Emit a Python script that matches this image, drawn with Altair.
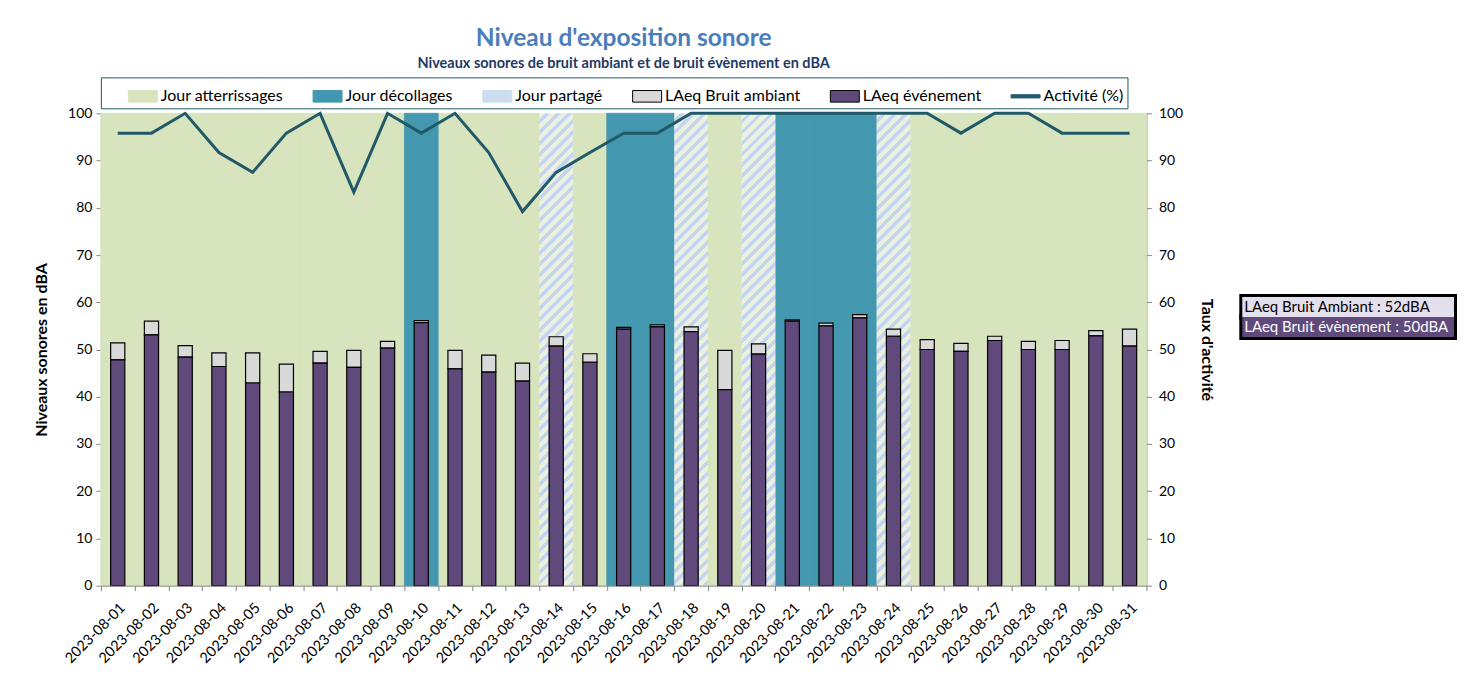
import altair as alt
import pandas as pd

# ---------------- data ----------------
dates = [
    "2023-08-01", "2023-08-02", "2023-08-03", "2023-08-04", "2023-08-05", "2023-08-06",
    "2023-08-07", "2023-08-08", "2023-08-09", "2023-08-10", "2023-08-11", "2023-08-12",
    "2023-08-13", "2023-08-14", "2023-08-15", "2023-08-16", "2023-08-17", "2023-08-18",
    "2023-08-19", "2023-08-20", "2023-08-21", "2023-08-22", "2023-08-23", "2023-08-24",
    "2023-08-25", "2023-08-26", "2023-08-27", "2023-08-28", "2023-08-29", "2023-08-30",
    "2023-08-31",
]
A, D, P = "Jour atterrissages", "Jour décollages", "Jour partagé"
day_type = [A, A, A, A, A, A, A, A, A, D, A, A, A, P, A, D, D, P, A, P, D, D, D, P,
            A, A, A, A, A, A, A]
laeq_evenement = [47.8, 53.1, 48.4, 46.4, 42.9, 41.0, 47.1, 46.2, 50.3, 55.7, 45.9,
                  45.2, 43.3, 50.7, 47.3, 54.3, 54.8, 53.8, 41.5, 49.0, 56.0, 55.0,
                  56.7, 52.8, 50.0, 49.6, 51.9, 50.0, 50.0, 52.9, 50.7]
laeq_ambiant_top = [51.4, 56.0, 50.8, 49.3, 49.3, 46.9, 49.6, 49.8, 51.7, 56.1, 49.8,
                    48.8, 47.1, 52.7, 49.1, 54.7, 55.2, 54.8, 49.8, 51.2, 56.3, 55.6,
                    57.4, 54.3, 52.1, 51.3, 52.8, 51.7, 51.9, 54.0, 54.3]
activite = [95.8, 95.8, 100, 91.7, 87.5, 95.8, 100, 83.3, 100, 95.8, 100, 91.7, 79.2,
            87.5, 91.7, 95.8, 95.8, 100, 100, 100, 100, 100, 100, 100, 100, 95.8, 100,
            100, 95.8, 95.8, 95.8]
legend_labels = ["Jour atterrissages", "Jour décollages", "Jour partagé",
                 "LAeq Bruit ambiant", "LAeq événement", "Activité (%)"]
info_labels = ["LAeq Bruit Ambiant : 52dBA", "LAeq Bruit évènement : 50dBA"]
axis_values = [0, 10, 20, 30, 40, 50, 60, 70, 80, 90, 100]

# ---------------- style ----------------
W, H = 1047, 473
FONT = "Lato"
GREEN = "#D7E4BD"
BLUE = "#4398AF"
HATCH_BG = "#EBF0E0"
HATCH_FG = "#C3D5EF"
LIGHT = "#D9D9D9"
PURPLE = "#604A7B"
TEAL = "#215968"
GRAY = "#868686"

df = pd.DataFrame({"date": dates, "type": day_type, "event": laeq_evenement,
                   "total": laeq_ambiant_top, "act": activite})

# diagonal hatch as a striped linear gradient (bbox units)
bw = W / len(dates)
r = bw / H
k = (bw + H) / (H * (1 + r * r))
period = 11.0 / (bw + H)
stops = []
o = 0.0
while o < 1.0:
    a = round(o, 5)
    b = round(min(o + period * 0.55, 1.0), 5)
    c = round(min(o + period, 1.0), 5)
    stops += [alt.GradientStop(offset=a, color=HATCH_BG),
              alt.GradientStop(offset=b, color=HATCH_BG),
              alt.GradientStop(offset=b, color=HATCH_FG),
              alt.GradientStop(offset=c, color=HATCH_FG)]
    o += period
hatch = alt.LinearGradient(gradient="linear", stops=stops, x1=0, y1=0,
                           x2=round(k * r, 5), y2=round(k, 5))

yscale = alt.Scale(domain=[0, 100], nice=False)
left_axis = alt.Axis(title="Niveaux sonores en dBA", values=axis_values, grid=False,
                     titlePadding=18, labelPadding=4, tickSize=5)
right_axis = alt.Axis(orient="right", title="Taux d'activité", values=axis_values,
                      grid=False, titlePadding=16, labelPadding=7, tickSize=5)
x_enc = alt.X("date:O", sort=dates,
              scale=alt.Scale(paddingInner=0, paddingOuter=0),
              axis=alt.Axis(title=None, labelAngle=-45, tickBand="extent",
                            tickSize=5, labelPadding=10, labelFontSize=14.5))

base = alt.Chart(df)


def band(kind, fill, seam=True):
    mk = dict(fill=fill)
    if seam:
        mk.update(stroke=fill, strokeWidth=0.8)
    return base.transform_filter(alt.datum.type == kind).mark_rect(**mk).encode(
        x=x_enc,
        y=alt.YDatum(datum=0, scale=yscale, axis=left_axis),
        y2=alt.Y2Datum(datum=100),
    )


bg_a = band(A, GREEN)
bg_d = band(D, BLUE)
bg_p = band(P, hatch, seam=False)

amb = base.mark_bar(fill=LIGHT, stroke="black", strokeWidth=1.2,
                    width=alt.RelativeBandSize(0.42)).encode(
    x=x_enc,
    y=alt.Y("event:Q", scale=yscale, axis=left_axis),
    y2="total:Q",
)
evt = base.mark_bar(fill=PURPLE, stroke="black", strokeWidth=1.2,
                    width=alt.RelativeBandSize(0.42)).encode(
    x=x_enc,
    y=alt.Y("event:Q", scale=yscale, axis=left_axis),
)

leg_fill = [GREEN, BLUE, "#CCDCEF", LIGHT, PURPLE, TEAL]
leg_stroke = [GREEN, BLUE, "#CCDCEF", "black", "black", TEAL]
SQ = "M-1,-0.4H1V0.4H-1Z"
leg_shape = [SQ, SQ, SQ, SQ, SQ, "M-1,-0.11H1V0.11H-1Z"]
leg = alt.Legend(title=" ", titleOrient="left", titlePadding=23, orient="none",
                 legendX=0, legendY=-36, direction="horizontal", columns=6)
legend_layer = alt.Chart(pd.DataFrame({"label": legend_labels})).transform_filter(
    "false").mark_point(filled=True, opacity=1, strokeWidth=1).encode(
    fill=alt.Fill("label:N", scale=alt.Scale(domain=legend_labels, range=leg_fill), legend=leg),
    stroke=alt.Stroke("label:N", scale=alt.Scale(domain=legend_labels, range=leg_stroke), legend=leg),
    shape=alt.Shape("label:N", scale=alt.Scale(domain=legend_labels, range=leg_shape), legend=leg),
)

line = base.mark_line(color=TEAL, strokeWidth=3).encode(
    x=x_enc,
    y=alt.Y("act:Q", scale=alt.Scale(domain=[0, 100], nice=False), axis=right_axis),
)

inner = alt.layer(bg_a, bg_d, bg_p, amb, evt, legend_layer)
main = alt.layer(inner, line).resolve_scale(y="independent").properties(
    width=W, height=H,
    view=alt.ViewBackground(stroke="transparent"),
    title=alt.TitleParams(
        text="Niveau d'exposition sonore",
        subtitle="Niveaux sonores de bruit ambiant et de bruit évènement en dBA",
        font=FONT, fontSize=24.5, fontWeight="bold", color="#4A7EBB",
        subtitleFont=FONT, subtitleFontSize=14.5, subtitleFontWeight="bold",
        subtitleColor="#1F3864", subtitlePadding=6, anchor="middle", offset=5,
    ),
)

# side info box: same height as the plot, rows placed by a band scale range
info_base = alt.Chart(pd.DataFrame({"label": info_labels}))
info_y = alt.Y("label:N", sort=info_labels, axis=None,
               scale=alt.Scale(paddingInner=0, paddingOuter=0, range=[184, 224]))
info_border = info_base.mark_rect(fill="black", stroke="black", strokeWidth=6).encode(y=info_y)
info_rect = info_base.mark_rect().encode(
    y=info_y,
    fill=alt.Fill("label:N", scale=alt.Scale(domain=info_labels, range=["#E4DFEC", PURPLE]),
                  legend=None),
)
info_text = info_base.mark_text(align="left", font=FONT, fontSize=15, dx=2).encode(
    y=info_y,
    x=alt.value(0),
    text="label:N",
    color=alt.Color("label:N", scale=alt.Scale(domain=info_labels, range=["black", "white"]),
                    legend=None),
)
info = alt.layer(info_border, info_rect, info_text).properties(
    width=212, height=H,
    view=alt.ViewBackground(stroke="transparent"),
)

chart = alt.hconcat(main, info, spacing=23).resolve_scale(
    fill="independent", stroke="independent", shape="independent", color="independent",
).properties(
    padding={"left": 25, "top": 17, "right": 0, "bottom": 0},
).configure(font=FONT).configure_axis(
    domainColor=GRAY, tickColor=GRAY, labelColor="black", titleColor="black",
    labelFont=FONT, titleFont=FONT, labelFontSize=14, titleFontSize=16,
    titleFontWeight="bold", grid=False,
).configure_legend(
    strokeColor=TEAL, fillColor="white", padding=4, labelFont=FONT, labelFontSize=16,
    labelColor="black", symbolSize=841, symbolStrokeWidth=1, columnPadding=27,
    labelOffset=3, titleFontSize=14,
)

chart.save("out.html", embed_options={"renderer": "svg", "actions": False})
